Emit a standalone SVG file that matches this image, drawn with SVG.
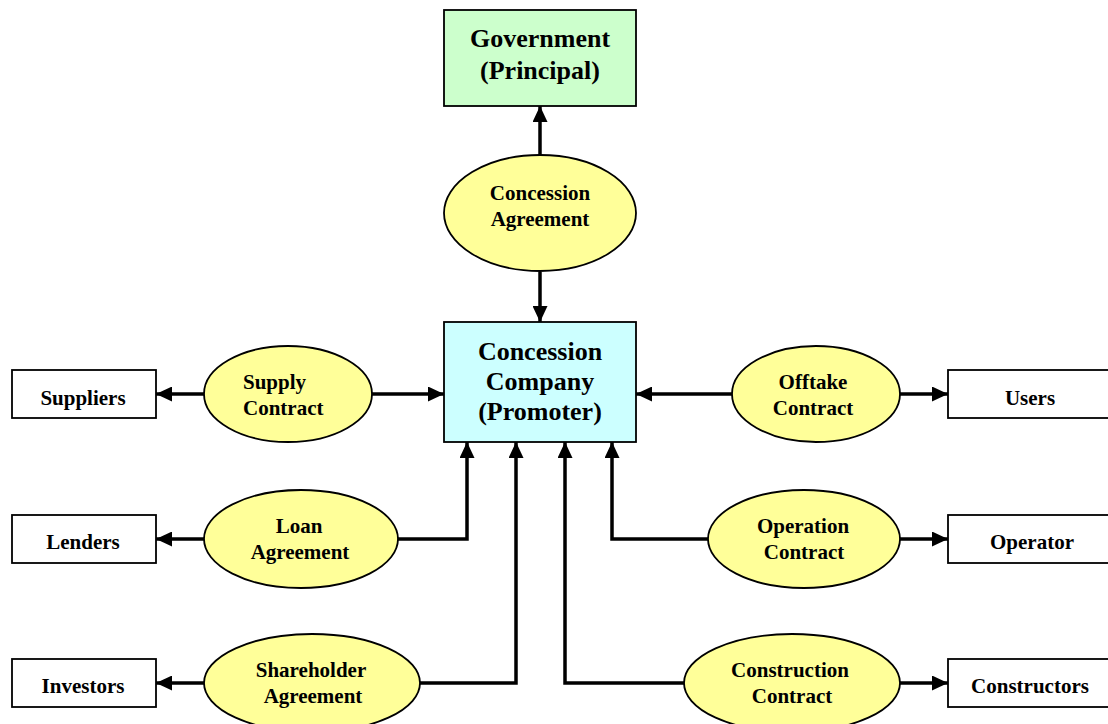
<svg xmlns="http://www.w3.org/2000/svg" width="1108" height="724" viewBox="0 0 1108 724">
<defs>
<marker id="ah" markerUnits="userSpaceOnUse" markerWidth="17" markerHeight="15" refX="16" refY="7.5" orient="auto">
<path d="M0,0 L16,7.5 L0,15 Z" fill="#000"/>
</marker>
<style>
.box{stroke:#000;stroke-width:1.8}
.ell{fill:#ffff99;stroke:#000;stroke-width:1.8}
.big{font-family:"Liberation Serif","Times New Roman",serif;font-weight:bold;font-size:26px;text-anchor:middle;fill:#000}
.lbl{font-family:"Liberation Serif","Times New Roman",serif;font-weight:bold;font-size:21px;text-anchor:middle;fill:#000}
.con{fill:none;stroke:#000;stroke-width:3.5;marker-end:url(#ah)}
</style>
</defs>
<rect width="1108" height="724" fill="#fff"/>
<g id="connectors">
<line class="con" x1="540" y1="155" x2="540" y2="106"/>
<line class="con" x1="540" y1="272" x2="540" y2="322"/>
<line class="con" x1="204" y1="394" x2="156" y2="394"/>
<line class="con" x1="372" y1="394" x2="444" y2="394"/>
<line class="con" x1="733" y1="394" x2="636" y2="394"/>
<line class="con" x1="900" y1="394" x2="948" y2="394"/>
<line class="con" x1="204" y1="539" x2="156" y2="539"/>
<path class="con" d="M398,539 H467 V442"/>
<path class="con" d="M709,539 H612 V442"/>
<line class="con" x1="900" y1="539" x2="948" y2="539"/>
<line class="con" x1="204" y1="683" x2="156" y2="683"/>
<path class="con" d="M420,683 H516 V442"/>
<path class="con" d="M684,683 H565 V442"/>
<line class="con" x1="900" y1="683" x2="948" y2="683"/>
</g>
<g id="government">
<rect class="box" x="444" y="10" width="192" height="96" fill="#ccffcc"/>
<text class="big" x="540" y="47">Government</text>
<text class="big" x="540" y="79">(Principal)</text>
</g>
<g id="concession-agreement">
<ellipse class="ell" cx="540" cy="213" rx="96" ry="58"/>
<text class="lbl" x="540" y="200">Concession</text>
<text class="lbl" x="540" y="226">Agreement</text>
</g>
<g id="company">
<rect class="box" x="444" y="322" width="192" height="120" fill="#ccffff"/>
<text class="big" x="540" y="360">Concession</text>
<text class="big" x="540" y="390">Company</text>
<text class="big" x="540" y="420">(Promoter)</text>
</g>
<g id="suppliers">
<rect class="box" x="12" y="370" width="144" height="48" fill="#fff"/>
<text class="lbl" x="83" y="405">Suppliers</text>
</g>
<g id="supply-contract">
<ellipse class="ell" cx="288" cy="394" rx="84" ry="48"/>
<text class="lbl" x="243" y="389" style="text-anchor:start">Supply</text>
<text class="lbl" x="243" y="415" style="text-anchor:start">Contract</text>
</g>
<g id="offtake-contract">
<ellipse class="ell" cx="816" cy="394" rx="84" ry="48"/>
<text class="lbl" x="813" y="389">Offtake</text>
<text class="lbl" x="813" y="415">Contract</text>
</g>
<g id="users">
<rect class="box" x="948" y="370" width="164" height="48" fill="#fff"/>
<text class="lbl" x="1030" y="405">Users</text>
</g>
<g id="lenders">
<rect class="box" x="12" y="515" width="144" height="48" fill="#fff"/>
<text class="lbl" x="83" y="549">Lenders</text>
</g>
<g id="loan-agreement">
<ellipse class="ell" cx="301" cy="539" rx="97" ry="49"/>
<text class="lbl" x="299" y="533">Loan</text>
<text class="lbl" x="300" y="559">Agreement</text>
</g>
<g id="operation-contract">
<ellipse class="ell" cx="804" cy="539" rx="96" ry="49"/>
<text class="lbl" x="803" y="533">Operation</text>
<text class="lbl" x="804" y="559">Contract</text>
</g>
<g id="operator">
<rect class="box" x="948" y="515" width="164" height="48" fill="#fff"/>
<text class="lbl" x="1032" y="549">Operator</text>
</g>
<g id="investors">
<rect class="box" x="12" y="659" width="144" height="48" fill="#fff"/>
<text class="lbl" x="83" y="693">Investors</text>
</g>
<g id="shareholder-agreement">
<ellipse class="ell" cx="312" cy="683" rx="108" ry="49"/>
<text class="lbl" x="311" y="677">Shareholder</text>
<text class="lbl" x="313" y="703">Agreement</text>
</g>
<g id="construction-contract">
<ellipse class="ell" cx="792" cy="683" rx="108" ry="49"/>
<text class="lbl" x="790" y="677">Construction</text>
<text class="lbl" x="792" y="703">Contract</text>
</g>
<g id="constructors">
<rect class="box" x="948" y="659" width="164" height="48" fill="#fff"/>
<text class="lbl" x="1030" y="693">Constructors</text>
</g>
</svg>
